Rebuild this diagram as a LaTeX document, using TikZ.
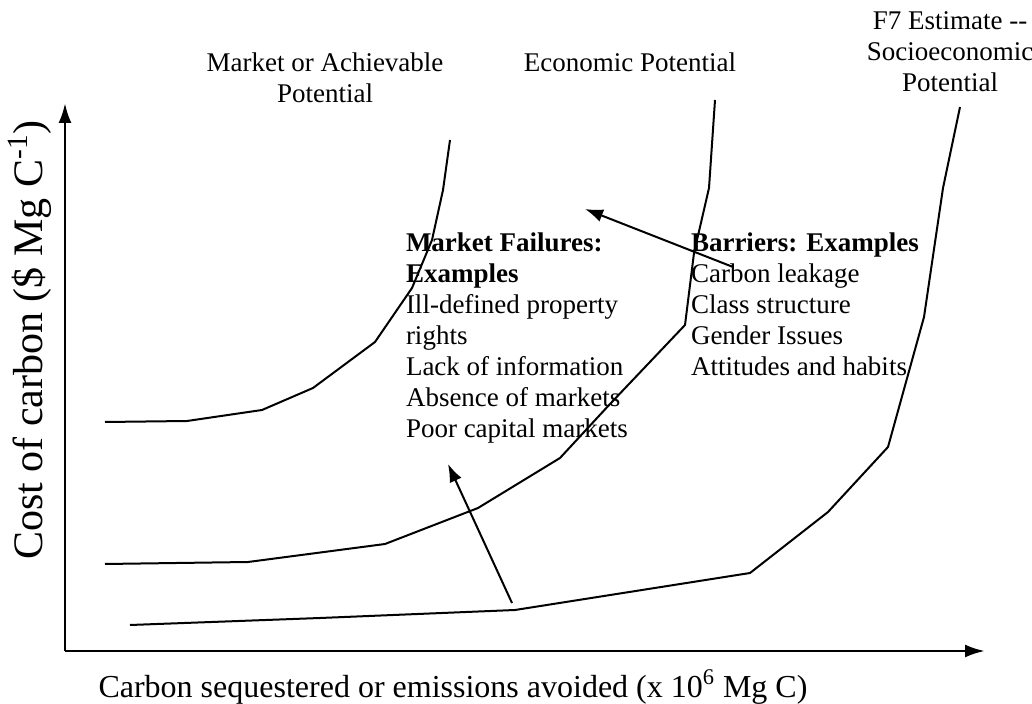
\documentclass[tikz,border=0pt]{standalone}
\usepackage{fontspec}
\setmainfont{Liberation Serif}
\usetikzlibrary{arrows.meta}

\begin{document}
\begin{tikzpicture}[x=.5pt,y=-.5pt,line width=1pt,
  lbl/.style={inner sep=0pt,font=\fontsize{13.5}{15.5}\selectfont},
  axis/.style={line width=1.4pt,-{Latex[length=10pt,width=6.5pt]}},
  push/.style={line width=1pt,-{Latex[length=9pt,width=6.5pt]}}]
\useasboundingbox (0,0) rectangle (1032,704);
% axes
\coordinate (o) at (65,651);
\coordinate (ytop) at (65,103);
\coordinate (xend) at (985,651);
\draw[axis] (o) -- (ytop);
\draw[axis] (o) -- (xend);
\node[lbl,rotate=90,font=\fontsize{21}{24}\selectfont] (ylab) at (30,340) {Cost of carbon (\$ Mg C\textsuperscript{-1})};
\node[lbl,font=\fontsize{16}{19}\selectfont] (xlab) at (453,687) {Carbon sequestered or emissions avoided (x 10\textsuperscript{6} Mg C)};

% potential curves
\draw (105,422) -- (187,421) -- (262,410) -- (313,388) -- (375,342) -- (412,288) -- (432,240) -- (443,190) -- (450,140);
\draw (105,564) -- (248,562) -- (385,544) -- (478,508) -- (560,458) -- (610,404) -- (648,364) -- (685,325) -- (694,253) -- (709,188) -- (715,100);
\draw (130,625) -- (320,618) -- (515,610) -- (750,573) -- (828,512) -- (888,447) -- (924,317) -- (943,188) -- (960,107);

\node[lbl,align=center] (mkt) at (325,78) {Market or Achievable\\Potential};
\node[lbl,align=center] (econ) at (630,62) {Economic Potential};
\node[lbl,align=center] (socio) at (950,52) {F7 Estimate -{}-\\Socioeconomic\\Potential};

% examples
\node[lbl,align=left,anchor=north west] (fail) at (405,232) {\textbf{Market Failures:}\\\textbf{Examples}\\Ill-defined property\\rights\\Lack of information\\Absence of markets\\Poor capital markets};
\node[lbl,align=left,anchor=north west] (barr) at (690,232) {\textbf{Barriers: Examples}\\Carbon leakage\\Class structure\\Gender Issues\\Attitudes and habits};

\coordinate (f0) at (512,603);
\coordinate (f1) at (448,464);
\coordinate (b0) at (733,267);
\coordinate (b1) at (585,209);
\draw[push] (f0) -- (f1);
\draw[push] (b0) -- (b1);
\end{tikzpicture}
\end{document}
